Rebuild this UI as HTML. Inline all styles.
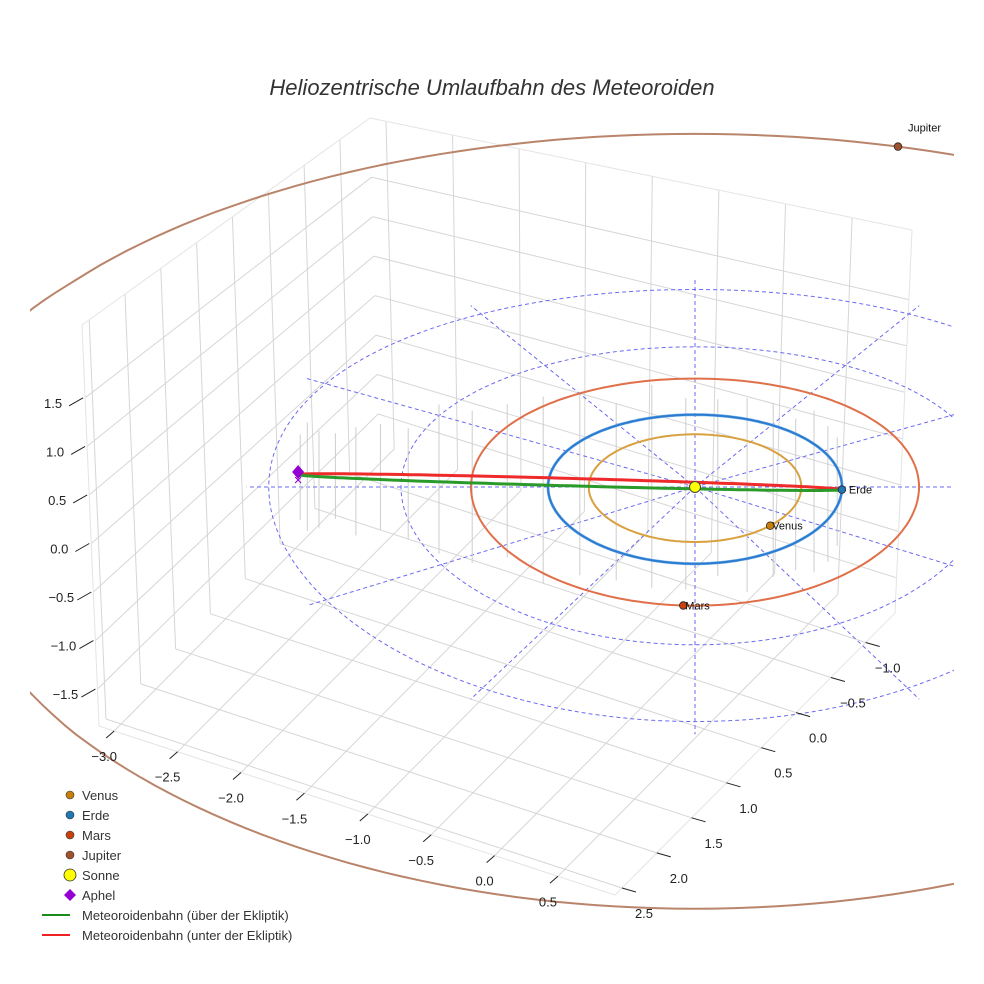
<!DOCTYPE html>
<html><head><meta charset="utf-8"><style>
html,body{margin:0;padding:0;background:#fff;}
svg{display:block;font-family:"Liberation Sans",sans-serif;}
</style></head><body>
<svg id="chart" width="984" height="984" viewBox="0 0 984 984" xmlns="http://www.w3.org/2000/svg">
<defs><clipPath id="plotclip"><rect x="30" y="60" width="924" height="924"/></clipPath></defs>
<rect width="984" height="984" fill="#fff"/>
<text x="492" y="95" text-anchor="middle" font-size="22" font-style="italic" fill="#333">Heliozentrische Umlaufbahn des Meteoroiden</text>
<g id="box"></g>
<g id="plot" clip-path="url(#plotclip)"></g>
<g id="plabels"></g>
<g id="labels"></g>
<g id="legend"></g>
</svg>
<script>
// ---- data ----
var xTicks = [-3.0,-2.5,-2.0,-1.5,-1.0,-0.5,0.0,0.5];
var yTicks = [2.5,2.0,1.5,1.0,0.5,0.0,-0.5,-1.0];
var zTicks = [-1.5,-1.0,-0.5,0.0,0.5,1.0,1.5];
var planetNames = ["Venus","Erde","Mars","Jupiter"];
var planetRadii = [0.723,1.0,1.524,5.2];
var planetAnglesDeg = [45,2,93,-74.6];
var planetColors = ["#c87f0a","#1f77b4","#c8410c","#a0522d"];
var orbitColors = ["#d9a040","#2b7bd0","#e0704a","#b9846a"];
var gridRings = [2,2.9];
var spokeAnglesDeg = [0,30,60,90,120,150,180,210,240,270,300,330];
var meteorAphel = -2.7;
var meteorPerihel = 1.0;
var meteorAphelZ = 0.2;
var legendLabels = ["Venus","Erde","Mars","Jupiter","Sonne","Aphel","Meteoroidenbahn (über der Ekliptik)","Meteoroidenbahn (unter der Ekliptik)"];

var NS="http://www.w3.org/2000/svg";
function mk(tag,attrs,parent){var e=document.createElementNS(NS,tag);for(var k in attrs)e.setAttribute(k,attrs[k]);parent.appendChild(e);return e;}
var box=document.getElementById('box'),plot=document.getElementById('plot'),plabels=document.getElementById('plabels'),labels=document.getElementById('labels'),legend=document.getElementById('legend');

// ---- 3D box mapping (bilinear) ----
var F={x00:99,y00:726,x10:615,y10:895,x01:379,y01:444,x11:895,y11:613};
var H={h00:401,h10:440,h01:326,h11:383}, D={d00:-17,d10:0,d01:-9,d11:17};
var xr=[-3.12,0.95], yr=[2.6,-1.42], zr=[-1.88,2.25];
function bl(a,b,c,d,s,t){return a*(1-s)*(1-t)+b*s*(1-t)+c*(1-s)*t+d*s*t;}
function boxPt(x,y,z){var s=(x-xr[0])/(xr[1]-xr[0]),t=(y-yr[0])/(yr[1]-yr[0]),w=(z-zr[0])/(zr[1]-zr[0]);
 var fx=bl(F.x00,F.x10,F.x01,F.x11,s,t),fy=bl(F.y00,F.y10,F.y01,F.y11,s,t);
 var h=bl(H.h00,H.h10,H.h01,H.h11,s,t),d=bl(D.d00,D.d10,D.d01,D.d11,s,t);
 return [fx+d*w,fy-h*w];}
function line(p,q,st,parent,name){var l=mk('line',{x1:p[0].toFixed(1),y1:p[1].toFixed(1),x2:q[0].toFixed(1),y2:q[1].toFixed(1),stroke:st.c,'stroke-width':st.w||1},parent);
 if(st.dash)l.setAttribute('stroke-dasharray',st.dash);
 
 return l;}
var g={c:'#d6d6d6',w:1};
xTicks.forEach(function(x){line(boxPt(x,yr[0],zr[0]),boxPt(x,yr[1],zr[0]),g,box,'floor-gridline-x');});
yTicks.forEach(function(y){line(boxPt(xr[0],y,zr[0]),boxPt(xr[1],y,zr[0]),g,box,'floor-gridline-y');});
yTicks.forEach(function(y){line(boxPt(xr[0],y,zr[0]),boxPt(xr[0],y,zr[1]),g,box,'left-wall-gridline');});
zTicks.forEach(function(z){line(boxPt(xr[0],yr[0],z),boxPt(xr[0],yr[1],z),g,box,'left-wall-gridline-z');});
xTicks.forEach(function(x){line(boxPt(x,yr[1],zr[0]),boxPt(x,yr[1],zr[1]),g,box,'back-wall-gridline');});
zTicks.forEach(function(z){line(boxPt(xr[0],yr[1],z),boxPt(xr[1],yr[1],z),g,box,'back-wall-gridline-z');});
var eg={c:'#e4e4e4',w:1};
line(boxPt(xr[0],yr[0],zr[0]),boxPt(xr[0],yr[0],zr[1]),eg,box,'box-edge');
line(boxPt(xr[1],yr[1],zr[0]),boxPt(xr[1],yr[1],zr[1]),eg,box,'box-edge');
line(boxPt(xr[0],yr[1],zr[1]),boxPt(xr[1],yr[1],zr[1]),eg,box,'box-edge');
line(boxPt(xr[0],yr[0],zr[1]),boxPt(xr[0],yr[1],zr[1]),eg,box,'box-edge');
line(boxPt(xr[0],yr[0],zr[0]),boxPt(xr[1],yr[0],zr[0]),eg,box,'box-edge');
line(boxPt(xr[1],yr[0],zr[0]),boxPt(xr[1],yr[1],zr[0]),eg,box,'box-edge');

// tick labels
var tk={c:'#222',w:1};
function fmt(v){return (v<0?'\u2212':'')+Math.abs(v).toFixed(1);}
xTicks.forEach(function(x){var p=boxPt(x,yr[0],zr[0]);
 line([p[0],p[1]],[p[0]-8,p[1]+7],tk,labels,'x-tick');
 var t=mk('text',{x:(p[0]-10).toFixed(1),y:(p[1]+30).toFixed(1),'text-anchor':'middle','font-size':13,fill:'#222'},labels);
 t.textContent=fmt(x);
 
 });
yTicks.forEach(function(y){var p=boxPt(xr[1],y,zr[0]);
 line([p[0],p[1]],[p[0]+14,p[1]+4],tk,labels,'y-tick');
 var t=mk('text',{x:(p[0]+22).toFixed(1),y:(p[1]+30).toFixed(1),'text-anchor':'middle','font-size':13,fill:'#222'},labels);
 t.textContent=fmt(y);
 
 });
zTicks.forEach(function(z){var p=boxPt(xr[0],yr[0],z);
 line([p[0]-16,p[1]+8],[p[0]-2,p[1]],tk,labels,'z-tick');
 var t=mk('text',{x:(p[0]-32).toFixed(1),y:(p[1]+10).toFixed(1),'text-anchor':'middle','font-size':13,fill:'#222'},labels);
 t.textContent=fmt(z);
 
 });

// ---- ecliptic projection ----
var CX=695,CY=487;
function proj(x,y,z){z=z||0;var ay=Math.abs(y);return [CX+147*x, CY+74.5*y+2.2*ay*Math.min(ay,3)-75*z];}
function ringPath(r,n){var d='';for(var i=0;i<=n;i++){var a=i/n*2*Math.PI;var p=proj(r*Math.cos(a),r*Math.sin(a));d+=(i?'L':'M')+p[0].toFixed(1)+' '+p[1].toFixed(1);}return d;}
gridRings.forEach(function(r){var e=mk('path',{d:ringPath(r,180),fill:'none',stroke:'#6a6af0','stroke-width':1,'stroke-dasharray':'4,3'},plot);
 
 });
spokeAnglesDeg.forEach(function(a){var r=a*Math.PI/180;var rr=3.05;
 line(proj(0,0),proj(rr*Math.cos(r),rr*Math.sin(r)),{c:'#6a6af0',w:1,dash:'4,3'},plot,'ecliptic-spoke');});

function meteor(E){var a=(meteorPerihel-meteorAphel)/2,c=(meteorPerihel+meteorAphel)/2;var x=c+a*Math.cos(E);var y=0.035+0.05*Math.sin(E);var z=meteorAphelZ*(meteorPerihel-x)/(meteorPerihel-meteorAphel);return proj(x,y,z);}
// spike lines
var spikeIdx=[];for(var i=0;i<22;i++)spikeIdx.push(i);
spikeIdx.forEach(function(i){var E=Math.PI*(0.06+0.9*i/21)*(i%2?1:-1);var p=meteor(E);var f=Math.abs(E)/Math.PI;var h=45+50*Math.sin(Math.PI*Math.min(1,f*1.3))+6*(i%3);
 line([p[0],p[1]-h*0.9],[p[0],p[1]+h],{c:'#cdcdcd',w:1},plot,'spike-line');});

planetRadii.forEach(function(r,i){
 if(i===1){var e0=mk('path',{d:ringPath(r,240),fill:'none',stroke:'#7fb6ea','stroke-width':3},plot);
  
  }
 var e=mk('path',{d:ringPath(r,240),fill:'none',stroke:orbitColors[i],'stroke-width':2},plot);
 
 });

function meteorPath(from,to){var d='';var n=80;for(var i=0;i<=n;i++){var E=from+(to-from)*i/n;var p=meteor(E);d+=(i?'L':'M')+p[0].toFixed(1)+' '+p[1].toFixed(1);}return d;}
var red=mk('path',{d:meteorPath(-Math.PI,0),fill:'none',stroke:'#ee2a2a','stroke-width':3},plot);


var green=mk('path',{d:meteorPath(0,Math.PI),fill:'none',stroke:'#2a9a2a','stroke-width':3},plot);



planetRadii.forEach(function(r,i){var a=planetAnglesDeg[i]*Math.PI/180;var p=proj(r*Math.cos(a),r*Math.sin(a));
 var c=mk('circle',{cx:p[0].toFixed(1),cy:p[1].toFixed(1),r:3.8,fill:planetColors[i],stroke:'#222','stroke-width':0.8},plot);
 
 
 var dx=i===3?10:(i===1?7:2), dy=i===3?-15:4;
 var t=mk('text',{x:(p[0]+dx).toFixed(1),y:(p[1]+dy).toFixed(1),'font-size':11,fill:'#111'},plabels);
 t.textContent=planetNames[i];
 
 });
var sp=proj(0,0);
var sun=mk('circle',{cx:sp[0],cy:sp[1],r:5.5,fill:'#ffff00',stroke:'#444','stroke-width':1},plot);


var ap=proj(meteorAphel,0,meteorAphelZ);
var dia=mk('path',{d:'M'+ap[0]+' '+(ap[1]-7)+'L'+(ap[0]+6)+' '+ap[1]+'L'+ap[0]+' '+(ap[1]+7)+'L'+(ap[0]-6)+' '+ap[1]+'Z',fill:'#9400d3'},plot);


var xm=mk('text',{x:ap[0],y:ap[1]+13,'text-anchor':'middle','font-size':15,fill:'#9400d3'},plot);
xm.textContent='\u00d7';



legendLabels.forEach(function(lab,i){var y=795+i*20;var grp=mk('g',{},legend);
 
 
 if(i<4)mk('circle',{cx:70,cy:y,r:4,fill:planetColors[i],stroke:'#333','stroke-width':0.6},grp);
 else if(i===4)mk('circle',{cx:70,cy:y,r:6,fill:'#ffff00',stroke:'#333','stroke-width':0.8},grp);
 else if(i===5)mk('path',{d:'M70 '+(y-6)+'L76 '+y+'L70 '+(y+6)+'L64 '+y+'Z',fill:'#9400d3'},grp);
 else mk('line',{x1:42,y1:y,x2:70,y2:y,stroke:i===6?'#1a8a1a':'#ee2222','stroke-width':2},grp);
 var t=mk('text',{x:82,y:y+5,'font-size':13,fill:'#333'},grp);t.textContent=lab;});
</script>
</body></html>
